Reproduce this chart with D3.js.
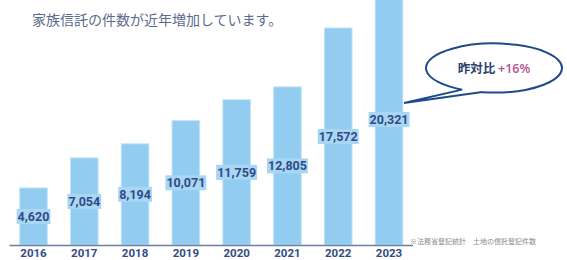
<!DOCTYPE html>
<html>
<head>
<meta charset="utf-8">
<script src="https://cdn.jsdelivr.net/npm/d3@7"></script>
<style>
  body { margin: 0; background: #fff; }
  svg { display: block; font-family: "Noto Sans CJK JP", "Noto Sans", sans-serif; }
</style>
</head>
<body>
<svg id="chart" width="567" height="260"></svg>
<script>
// data
var years = ["2016", "2017", "2018", "2019", "2020", "2021", "2022", "2023"];
var counts = [4620, 7054, 8194, 10071, 11759, 12805, 17572, 20321];
var titleText = "家族信託の件数が近年増加しています。";
var sourceText = "※法務省登記統計　土地の信託登記件数";

var svg = d3.select("svg#chart"),
    width = +svg.attr("width"),
    height = +svg.attr("height");

var baseY = 245;

var x = d3.scaleBand()
    .domain(years)
    .range([9.5, 413])
    .paddingInner(0.455)
    .paddingOuter(0.2);

// 20321 goes a bit past the top of the picture, like the original
var y = d3.scaleLinear()
    .domain([0, 20321])
    .range([baseY, -6]);

// title
svg.append("text")
    .attr("x", 32)
    .attr("y", 25)
    .attr("font-size", 14)
    .attr("fill", "#5b6b8c")
    .text(titleText);

// bars
svg.append("g")
    .selectAll("rect")
    .data(counts)
    .enter().append("rect")
    .attr("x", function(d, i) { return x(years[i]); })
    .attr("y", function(d) { return y(d); })
    .attr("width", x.bandwidth())
    .attr("height", function(d) { return baseY - y(d); })
    .attr("fill", "#92cdf1")
    .attr("stroke", "#c4e4f8")
    .attr("stroke-width", 1);

// value labels with a tinted box
var lab = svg.append("g")
    .selectAll("g")
    .data(counts)
    .enter().append("g")
    .attr("transform", function(d, i) {
      return "translate(" + (x(years[i]) + x.bandwidth() / 2) + "," + ((y(d) + baseY) / 2) + ")";
    });

lab.append("text")
    .attr("text-anchor", "middle")
    .attr("dy", "0.36em")
    .attr("font-family", "Roboto, 'Liberation Sans', sans-serif")
    .attr("font-weight", "bold")
    .attr("font-size", 12.5)
    .attr("fill", "#2f4c88")
    .text(function(d) { return d3.format(",")(d); })
    .each(function() {
      var b = this.getBBox();
      d3.select(this.parentNode).insert("rect", "text")
        .attr("x", b.x - 1)
        .attr("y", b.y)
        .attr("width", b.width + 2)
        .attr("height", b.height)
        .attr("fill", "#a9d6f3");
    });

// axis
var xAxis = svg.append("g")
    .attr("transform", "translate(0," + baseY + ")")
    .call(d3.axisBottom(x).tickSize(0).tickPadding(4));
xAxis.select(".domain")
    .attr("d", "M9.5,0.5H413")
    .attr("stroke", "#6c7fa3")
    .attr("stroke-width", 1.5);
xAxis.selectAll("text")
    .attr("font-family", "Roboto, 'Liberation Sans', sans-serif")
    .attr("font-weight", "bold")
    .attr("font-size", 11.5)
    .attr("fill", "#2f4c88");

// source note
svg.append("text")
    .attr("x", 410)
    .attr("y", 244)
    .attr("font-size", 7)
    .attr("fill", "#8a8a8a")
    .text(sourceText);

// speech bubble
var cx = 494, cy = 68, rx = 68, ry = 24.5;
var a1 = 118 * Math.PI / 180, a2 = 100 * Math.PI / 180;
var p1 = [cx + rx * Math.cos(a1), cy + ry * Math.sin(a1)];
var p2 = [cx + rx * Math.cos(a2), cy + ry * Math.sin(a2)];
var tip = [404, 103];
svg.append("path")
    .attr("d", "M" + p1[0] + "," + p1[1] +
               " A" + rx + "," + ry + " 0 1,1 " + p2[0] + "," + p2[1] +
               " L" + tip[0] + "," + tip[1] + " Z")
    .attr("fill", "#fff")
    .attr("stroke", "#1f4a8a")
    .attr("stroke-width", 2)
    .attr("stroke-linejoin", "miter");

var bt = svg.append("text")
    .attr("x", cx)
    .attr("y", cy + 4.5)
    .attr("text-anchor", "middle")
    .attr("font-size", 12.5)
    .attr("font-weight", "bold");
bt.append("tspan").attr("fill", "#2d3f6e").text("昨対比 ");
bt.append("tspan").attr("fill", "#b4508f").attr("font-family", "'Open Sans', sans-serif").attr("font-weight", 600).text("+16%");
</script>
</body>
</html>
